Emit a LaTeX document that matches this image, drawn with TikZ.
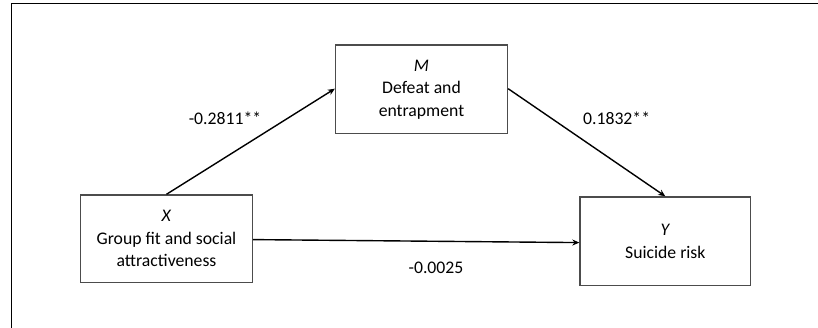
\documentclass[tikz,border=0pt]{standalone}
\usepackage{fontspec}
\setmainfont{Carlito}
\usetikzlibrary{arrows.meta}
\begin{document}
\begin{tikzpicture}[x=1pt,y=-1pt,
  varbox/.style={draw=black!70,line width=1.3pt,minimum width=172pt,inner sep=0pt,align=center,
    font=\fontsize{17.7}{22.5}\selectfont},
  path/.style={line width=1.4pt,-{Stealth[length=7pt,width=6pt]}},
  coef/.style={font=\fontsize{17.7}{22.5}\selectfont}]
\useasboundingbox (0,0) rectangle (818,328);
% partial frame: top and left edges
\draw[line width=1.3pt] (818,3.5) -- (11.5,3.5) -- (11.5,328);
% variables
\node[varbox,minimum height=88.7pt] (m) at (421.5,89.3) {\textit{M}\\Defeat and\\entrapment};
\node[varbox,minimum height=87.7pt] (x) at (166.5,238.8) {\textit{X}\\Group fit and social\\attractiveness};
\node[varbox,minimum height=88.7pt,minimum width=170.7pt] (y) at (665.3,241.3) {\textit{Y}\\Suicide risk};
% paths
\draw[path] (x.north) -- ([yshift=0.6pt]m.west);
\draw[path] ([yshift=0.6pt]m.east) -- (y.north);
\draw[path] ([yshift=-0.8pt]x.east) -- ([yshift=-1.3pt]y.west);
% coefficients
\node[coef] (a) at (225,118) {-0.2811**};
\node[coef] (b) at (616.6,118) {0.1832**};
\node[coef] (c) at (436,268) {-0.0025};
\end{tikzpicture}
\end{document}
